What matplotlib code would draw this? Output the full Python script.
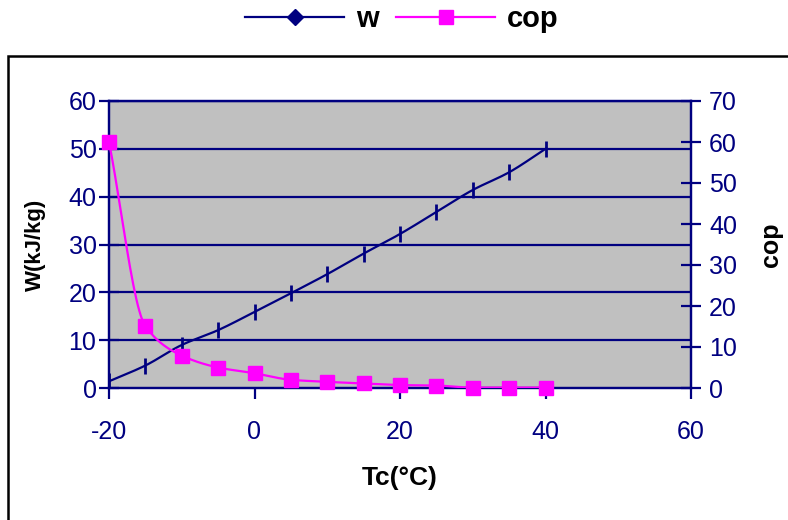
import matplotlib
matplotlib.use('Agg')
import matplotlib.pyplot as plt
from matplotlib.lines import Line2D
from matplotlib.patches import Rectangle
import numpy as np

plt.rcParams['font.family'] = ['Liberation Sans', 'DejaVu Sans']
plt.rcParams['axes.unicode_minus'] = False

# data
tc = [-20, -15, -10, -5, 0, 5, 10, 15, 20, 25, 30, 35, 40]
w = [1.4, 4.7, 9.0, 12.1, 15.9, 19.8, 23.8, 28.1, 32.2, 36.8, 41.4, 45.1, 50.0]
cop = [60.0, 15.1, 7.9, 5.0, 3.6, 2.0, 1.5, 1.1, 0.7, 0.6, 0.1, 0.1, 0.1]

x_ticks = [-20, 0, 20, 40, 60]
w_ticks = [0, 10, 20, 30, 40, 50, 60]
cop_ticks = [0, 10, 20, 30, 40, 50, 60, 70]

navy = '#000080'
magenta = '#FF00FF'


def smooth(x, y, n=24):
    """Monotone cubic (Fritsch-Carlson) curve through the points, for a smoothed line."""
    x = np.asarray(x, float)
    y = np.asarray(y, float)
    h = np.diff(x)
    d = np.diff(y) / h
    m = np.zeros_like(y)
    m[0], m[-1] = d[0], d[-1]
    for i in range(1, len(x) - 1):
        if d[i - 1] * d[i] > 0:
            w1 = 2 * h[i] + h[i - 1]
            w2 = h[i] + 2 * h[i - 1]
            m[i] = (w1 + w2) / (w1 / d[i - 1] + w2 / d[i])
    xs, ys = [], []
    t = np.linspace(0, 1, n, endpoint=False)
    for i in range(len(x) - 1):
        h00 = 2 * t ** 3 - 3 * t ** 2 + 1
        h10 = t ** 3 - 2 * t ** 2 + t
        h01 = -2 * t ** 3 + 3 * t ** 2
        h11 = t ** 3 - t ** 2
        xs.extend(x[i] + t * h[i])
        ys.extend(h00 * y[i] + h10 * h[i] * m[i] + h01 * y[i + 1] + h11 * h[i] * m[i + 1])
    xs.append(x[-1])
    ys.append(y[-1])
    return xs, ys


fig = plt.figure(figsize=(7.88, 5.2), dpi=100)
ax = fig.add_axes([109 / 788, 1 - 388 / 520, 582 / 788, 287 / 520])
ax2 = ax.twinx()

ax.set_facecolor('#C0C0C0')
ax.set_xlim(-20, 60)
ax.set_ylim(0, 60)
ax2.set_ylim(0, 70)

for v in w_ticks[1:]:
    ax.axhline(v, color=navy, lw=1.6, zorder=1)

sx, sy = smooth(tc, w)
ax.plot(sx, sy, color=navy, lw=1.6, zorder=3)
ax.plot(tc, w, ls='none', marker='|', ms=12, mew=2, color=navy, zorder=4)

cx, cy = smooth(tc, cop)
ax2.plot(cx, cy, color=magenta, lw=1.6, zorder=3)
ax2.plot(tc, cop, ls='none', marker='s', ms=9.5, color=magenta, zorder=4, clip_on=False)

ax.set_xticks(x_ticks)
ax.set_yticks(w_ticks)
ax2.set_yticks(cop_ticks)
for a in (ax, ax2):
    for s in a.spines.values():
        s.set_color(navy)
        s.set_linewidth(1.6)
ax.tick_params(axis='x', direction='out', length=8, width=1.6, color=navy,
               labelcolor=navy, labelsize=18, pad=15)
ax.tick_params(axis='y', direction='inout', length=14, width=1.6, color=navy,
               labelcolor=navy, labelsize=18, pad=2)
ax2.tick_params(axis='y', direction='inout', length=14, width=1.6, color=navy,
                labelcolor=navy, labelsize=18, pad=6)

ax.set_xlabel('Tc(°C)', fontsize=19, fontweight='bold', labelpad=16)
ax.set_ylabel('W(kJ/kg)', fontsize=16, fontweight='bold', labelpad=16)
ax2.set_ylabel('cop', fontsize=18, fontweight='bold', labelpad=16)

fig.patches.append(Rectangle((8 / 788, -0.2), 1.2, 0.2 + (520 - 56) / 520,
                             transform=fig.transFigure, fill=False,
                             edgecolor='black', lw=1.8))

handles = [Line2D([], [], color=navy, lw=1.6, marker='D', ms=8),
           Line2D([], [], color=magenta, lw=1.6, marker='s', ms=10)]
fig.legend(handles, ['w', 'cop'], loc='center', bbox_to_anchor=(402 / 788, 1 - 19 / 520),
           ncol=2, frameon=False, prop={'size': 21, 'weight': 'bold'},
           handlelength=3.4, columnspacing=0.6, handletextpad=0.4)

fig.savefig('out.png', dpi=100)
